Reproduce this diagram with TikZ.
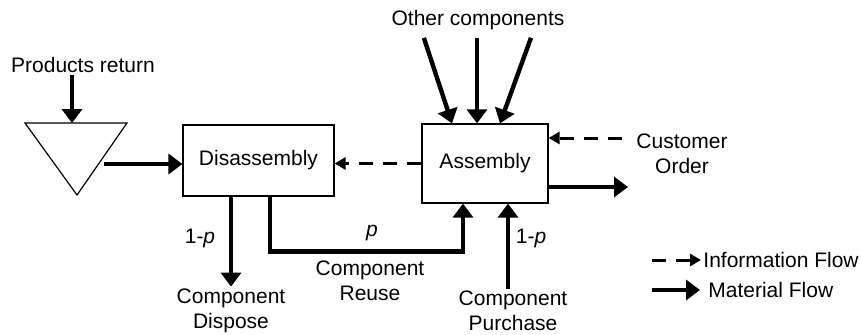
\documentclass[tikz,border=0pt]{standalone}
\usepackage{fontspec}
\setmainfont{Liberation Sans}
\usetikzlibrary{arrows.meta}

\tikzset{
  lbl/.style={inner sep=1pt, align=center, font=\fontsize{10.5}{12.5}\selectfont},
  box/.style={lbl, draw, line width=0.6pt, minimum width=75.5pt, minimum height=35.5pt, inner sep=0pt},
  matflow/.style={line width=2.2pt, -{Triangle[length=7pt,width=10pt]}},
  infflow/.style={line width=1.5pt, dash pattern=on 7pt off 5pt, -{Triangle[length=5.5pt,width=6pt]}},
}

\begin{document}
\begin{tikzpicture}[x=0.5pt,y=-0.5pt]
\useasboundingbox (0,0) rectangle (861,334);

% stock of returned products
\draw[line width=0.6pt] (25,123) -- (127,123) -- (77,195) -- cycle;
\coordinate (stocktop) at (72,123);
\coordinate (stockout) at (104,164);

\node[box] (dis) at (258.5,160.5) {Disassembly};
\node[box, minimum width=63pt, minimum height=39.5pt] (asm) at (485,163.5) {Assembly};

\node[lbl] (ret) at (83,65) {Products return};
\node[lbl] (oth) at (478,20) {Other components};
\node[lbl] (cust) at (682,154) {Customer\\Order};
\node[lbl] (disp) at (231,311) {Component\\Dispose};
\node[lbl] (reuse) at (370,281) {Component\\Reuse};
\node[lbl] (purch) at (513,311) {Component\\Purchase};
\node[lbl] (pdis) at (200,238) {1-\textit{p}};
\node[lbl] (preu) at (372,233) {\textit{p}};
\node[lbl] (ppur) at (531,238) {1-\textit{p}};

% material flow
\draw[matflow] (ret.south -| stocktop) -- (stocktop);
\draw[matflow] (stockout) -- (stockout -| dis.west);
\foreach \s/\t in {-28/-16.5, -0.5/-4, 27.5/7.5}
    \draw[matflow, shorten <=3pt] ([xshift=\s pt]oth.south) -- ([xshift=\t pt]asm.north);
\coordinate (out) at (628,187);
\draw[matflow] (out -| asm.east) -- (out);
\draw[matflow] (dis.south -| disp) -- (disp.north);
\draw[matflow] ([xshift=5.75pt]dis.south) -- ++(0,55) -| ([xshift=-11pt]asm.south);
\coordinate (pin) at ([xshift=11.5pt]asm.south);
\draw[matflow] (purch.north -| pin) -- (pin);

% information flow
\draw[infflow] (asm.west) -- (asm.west -| dis.east);
\coordinate (custin) at (622,138);
\draw[infflow] (custin) -- (custin -| asm.east);

% legend
\node[lbl, anchor=west] (linf) at (701,260) {Information Flow};
\draw[infflow] (linf.west) ++(-49,0) -- (linf.west);
\node[lbl, anchor=west] (lmat) at (706,290) {Material Flow};
\coordinate (lmatend) at (700,290);
\draw[matflow] (lmat.west) ++(-54,0) -- (lmatend);

\end{tikzpicture}
\end{document}
